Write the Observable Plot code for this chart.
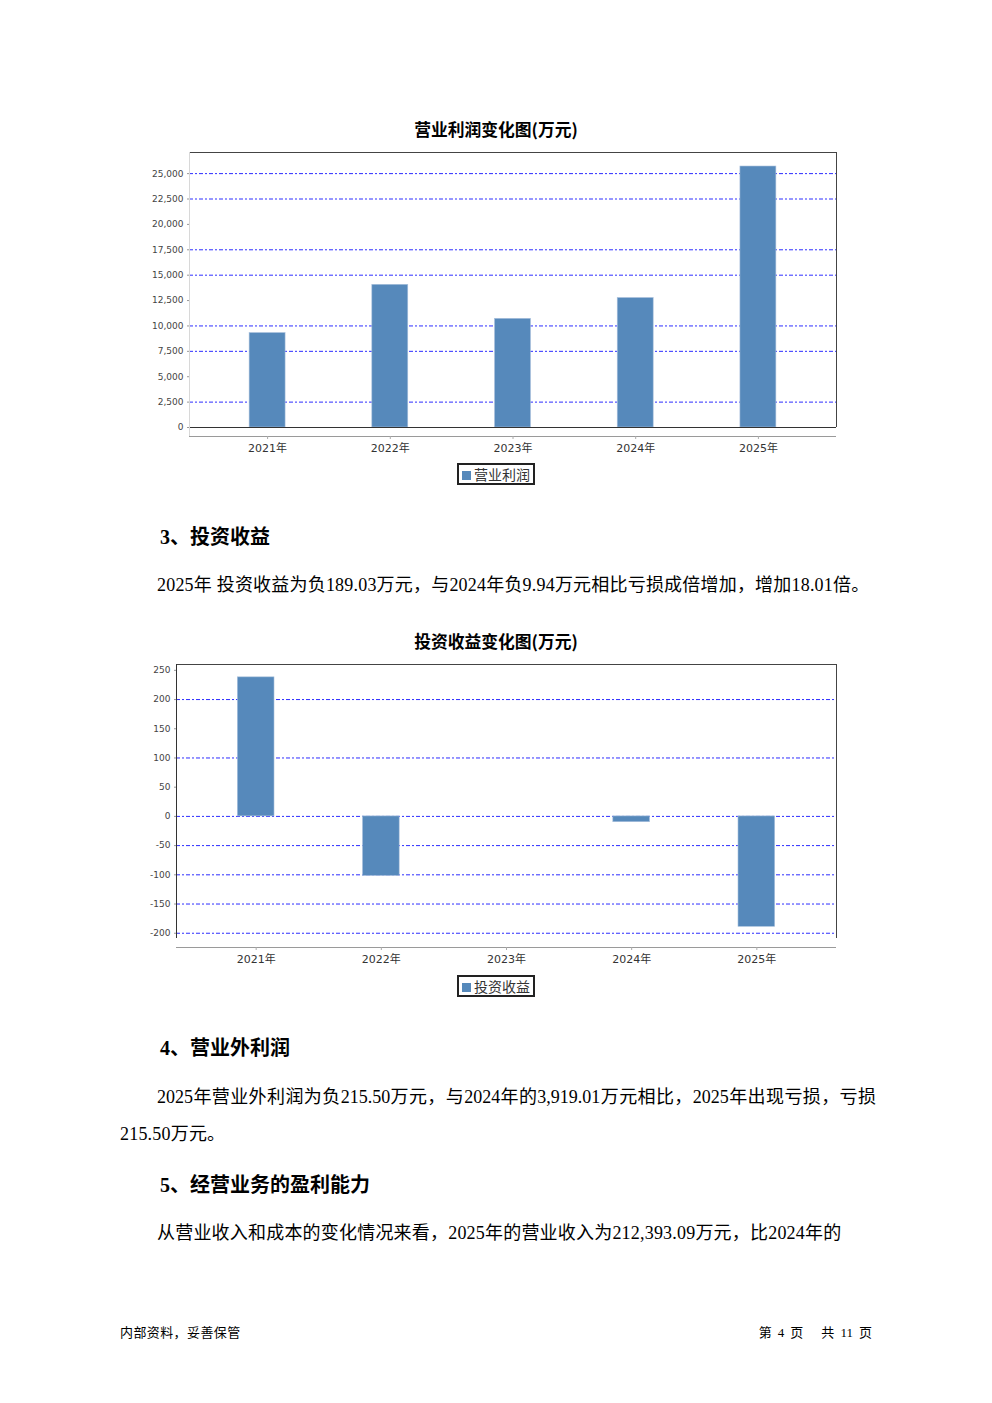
<!DOCTYPE html>
<html><head><meta charset="utf-8">
<script src="https://cdn.jsdelivr.net/npm/d3@7"></script>
<script src="https://cdn.jsdelivr.net/npm/@observablehq/plot@0.6"></script>
<style>
html,body{margin:0;padding:0;background:#fff;}
body{width:992px;height:1403px;position:relative;overflow:hidden;font-family:"Liberation Serif","Noto Sans CJK SC",serif;color:#000;}
.abs{position:absolute;white-space:nowrap;}
.ctitle{left:0;width:992px;text-align:center;font-family:"Noto Sans CJK SC",sans-serif;font-weight:700;font-size:16.8px;line-height:20px;}
.head{left:160px;font-family:"Liberation Serif","Noto Sans CJK SC",serif;font-weight:700;font-size:20px;line-height:24px;}
.para{font-size:18px;line-height:24px;letter-spacing:0.2px;}
.legend{border:2px solid #222;box-sizing:border-box;width:78px;height:22px;font-family:"Noto Sans CJK SC",sans-serif;font-size:14px;line-height:18px;color:#333;padding-left:3px;}
.legend i{display:inline-block;width:9px;height:9px;background:#5689bb;margin-right:3px;vertical-align:0px;}
.foot{font-size:13px;line-height:16px;font-family:"Liberation Serif","Noto Sans CJK SC",serif;}
.chart svg{overflow:visible;}
</style>
</head>
<body>
<div class="abs ctitle" style="top:119px;">营业利润变化图(万元)</div>
<div id="c1" class="abs chart" style="left:140px;top:140px;"></div>
<div class="abs legend" style="left:457px;top:463px;"><i></i>营业利润</div>

<div class="abs head" style="top:525px;">3、投资收益</div>
<div class="abs para" style="left:157px;top:573px;">2025年 投资收益为负189.03万元，与2024年负9.94万元相比亏损成倍增加，增加18.01倍。</div>

<div class="abs ctitle" style="top:631px;">投资收益变化图(万元)</div>
<div id="c2" class="abs chart" style="left:130px;top:655px;"></div>
<div class="abs legend" style="left:457px;top:975px;"><i></i>投资收益</div>

<div class="abs head" style="top:1036px;">4、营业外利润</div>
<div class="abs para" style="left:157px;top:1085px;width:719px;letter-spacing:0;text-align:justify;text-align-last:justify;white-space:normal;">2025年营业外利润为负215.50万元，与2024年的3,919.01万元相比，2025年出现亏损，亏损</div>
<div class="abs para" style="left:120px;top:1122px;">215.50万元。</div>

<div class="abs head" style="top:1173px;">5、经营业务的盈利能力</div>
<div class="abs para" style="left:157px;top:1221px;">从营业收入和成本的变化情况来看，2025年的营业收入为212,393.09万元，比2024年的</div>

<div class="abs foot" style="left:120px;top:1325px;letter-spacing:0.4px;">内部资料，妥善保管</div>
<div class="abs foot" style="right:120px;top:1325px;word-spacing:2.8px;">第 4 页&nbsp;&nbsp;&nbsp;共 11 页</div>

<script>
// ---- data ----
const years = ["2021年", "2022年", "2023年", "2024年", "2025年"];
const opProfit = [9300, 14050, 10700, 12750, 25700];          // 营业利润 (万元)
const invIncome = [238, -102, 0, -9.94, -189.03];              // 投资收益 (万元)
const opTicks = [0, 2500, 5000, 7500, 10000, 12500, 15000, 17500, 20000, 22500, 25000];
const opGrid = [2500, 7500, 10000, 15000, 17500, 22500, 25000];
const invTicks = [-200, -150, -100, -50, 0, 50, 100, 150, 200, 250];
const invGrid = [-200, -150, -100, -50, 0, 100, 200];

const barColor = "#5689bb";
const gridColor = "#2e2eff";
const tickFont = `"DejaVu Sans","Noto Sans CJK SC",sans-serif`;
const fmt = d3.formatLocale({decimal: ".", thousands: ",", grouping: [3], currency: ["", ""], minus: "-"}).format(",");

function frameMark(opts) {
  return (index, scales, values, dims) => {
    const {width, height, marginTop, marginRight, marginBottom, marginLeft} = dims;
    const x0 = marginLeft, x1 = width - marginRight, y0 = marginTop;
    const yb = height - marginBottom, yp = yb - opts.inset;
    const g = d3.create("svg:g");
    const line = (a, b, c, d, stroke) => g.append("line")
      .attr("x1", a).attr("y1", b).attr("x2", c).attr("y2", d)
      .attr("stroke", stroke).attr("stroke-width", 1).attr("shape-rendering", "crispEdges");
    line(x0, yb, x1, yb, "#9a9a9a");              // category axis line
    line(x0, y0, x1, y0, "#444");                 // top
    line(x1, y0, x1, yp, "#444");                 // right
    line(x0, y0, x0, opts.leftFull ? yb : yp, opts.leftColor); // left
    return g.node();
  };
}

function makeChart(values, ticks, grid, cfg) {
  const data = years.map((y, i) => ({year: y, value: values[i]}));
  return Plot.plot({
    width: cfg.width,
    height: cfg.height,
    marginLeft: cfg.marginLeft,
    marginRight: cfg.marginRight,
    marginTop: cfg.marginTop,
    marginBottom: cfg.marginBottom,
    style: {background: "transparent", overflow: "visible"},
    x: {domain: years, paddingInner: 0.707, paddingOuter: 0.49, round: false, label: null},
    y: {domain: cfg.domain, insetBottom: cfg.inset, label: null},
    marks: [
      Plot.ruleY(grid, {stroke: gridColor, strokeWidth: 1, strokeDasharray: "4,2,2,2"}),
      Plot.barY(data, {x: "year", y: "value", fill: barColor, stroke: "#a9c0dc", strokeWidth: 0.6}),
      ...(cfg.zeroLine ? [Plot.ruleY([0], {stroke: "#333", strokeWidth: 1})] : []),
      frameMark({inset: cfg.inset, leftColor: cfg.leftColor, leftFull: cfg.leftFull}),
      Plot.axisY({ticks: ticks, tickFormat: fmt, tickSize: 2, tickPadding: 4,
        fontSize: 9, fill: "#444", stroke: "#999", fontFamily: tickFont, label: null}),
      Plot.axisX({tickSize: 3, tickPadding: 5, fontSize: 11, fill: "#333", stroke: "#aaa",
        fontFamily: tickFont, label: null, style: "letter-spacing:0.7px"})
    ]
  });
}

document.getElementById("c1").append(makeChart(opProfit, opTicks, opGrid, {
  width: 700, height: 320, marginLeft: 49, marginRight: 4, marginTop: 12, marginBottom: 24,
  domain: [0, 27080], inset: 9, zeroLine: true, leftColor: "#d8d8d8", leftFull: true
}));

document.getElementById("c2").append(makeChart(invIncome, invTicks, invGrid, {
  width: 710, height: 320, marginLeft: 46, marginRight: 4, marginTop: 9, marginBottom: 28,
  domain: [-209, 260], inset: 9, zeroLine: false, leftColor: "#333", leftFull: false
}));
</script>
</body></html>
